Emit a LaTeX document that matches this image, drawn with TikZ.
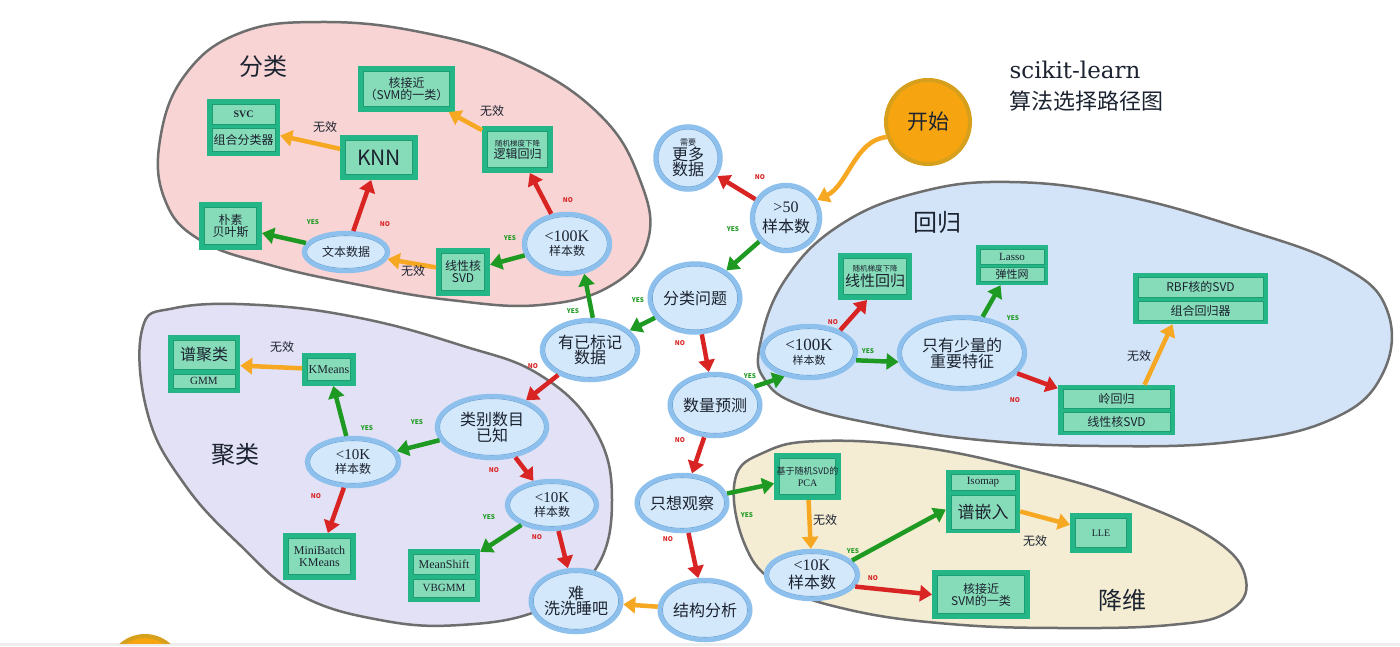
\documentclass[tikz,border=0pt]{standalone}
\usepackage{fontspec}
\setmainfont{Noto Sans CJK SC}
\newfontfamily\sr{Liberation Serif}
\newfontfamily\srd{DejaVu Serif}
\usetikzlibrary{arrows.meta,shapes.geometric,calc}
\newcommand\fsz[1]{\fontsize{#1}{#1}\selectfont\baselineskip=1.2\baselineskip}
\definecolor{pinkbg}{HTML}{F9D4D4}
\definecolor{lavbg}{HTML}{E2E1F5}
\definecolor{bluebg}{HTML}{D4E4F8}
\definecolor{beigebg}{HTML}{F4EDD3}
\definecolor{blobline}{HTML}{6E6E6E}
\definecolor{ellfill}{HTML}{D3E8FA}
\definecolor{elldraw}{HTML}{8DC0EC}
\definecolor{elldark}{HTML}{6EA6DA}
\definecolor{boxout}{HTML}{24B686}
\definecolor{boxin}{HTML}{86DBB8}
\definecolor{boxdark}{HTML}{1C9E72}
\definecolor{gr}{HTML}{1E9A22}
\definecolor{rd}{HTML}{D92424}
\definecolor{org}{HTML}{F7A823}
\definecolor{startfill}{HTML}{F6A511}
\definecolor{startdraw}{HTML}{D6A01C}
\definecolor{txt}{HTML}{1C2330}
\begin{document}
\begin{tikzpicture}[x=1pt,y=-1pt,
  blob/.style={draw=blobline, line width=2.5pt},
  ell/.style={ellipse, fill=ellfill, draw=elldraw, line width=4.5pt, inner sep=0pt, align=center, text=txt,
    path picture={\draw[elldark, line width=0.8pt] let \p1=(path picture bounding box.north east), \p2=(path picture bounding box.center) in (\p2) ellipse ({\x1-\x2-2.6pt} and {\y1-\y2-2.6pt});}},
  box/.style={rectangle, fill=boxin, draw=boxout, line width=5pt, inner sep=0pt, align=center, text=txt,
    path picture={\draw[boxdark, line width=0.7pt] ([shift={(2.8pt,-2.8pt)}]path picture bounding box.north west) rectangle ([shift={(-2.8pt,2.8pt)}]path picture bounding box.south east);}},
  stackframe/.style={rectangle, fill=boxout, inner sep=0pt},
  stackrow/.style={rectangle, fill=boxin, draw=boxdark, line width=0.6pt, inner sep=0pt, align=center, text=txt},
  arr/.style={line width=4.5pt, -{Triangle[length=12pt,width=16pt]}},
  garr/.style={arr, draw=gr},
  rarr/.style={arr, draw=rd},
  oarr/.style={arr, draw=org},
  yes/.style={text=gr, font=\fsz{6.5}\bfseries, inner sep=0pt},
  no/.style={text=rd, font=\fsz{6.5}\bfseries, inner sep=0pt},
  wx/.style={font=\fsz{12}, text=txt, inner sep=0pt},
  ttl/.style={font=\fsz{24}, text=txt, inner sep=0pt}
]
\useasboundingbox (0,0) rectangle (1400,646);
\fill[white] (0,0) rectangle (1400,646);
\fill[black!7] (0,643) rectangle (1400,646);
\begin{scope}
\clip (0,0) rectangle (1400,643);
\filldraw[fill=startfill, draw=startdraw, line width=4pt] (145,672) circle (36);
\end{scope}

% blobs
\draw[blob, fill=pinkbg] plot[smooth cycle, tension=0.7] coordinates {(160,140) (185,75) (240,33) (320,22) (420,32) (520,62) (600,115) (640,180) (648,240) (612,285) (540,305) (450,300) (360,285) (270,265) (200,240) (165,200)};
\draw[blob, fill=lavbg] plot[smooth cycle, tension=0.7] coordinates {(142,330) (175,308) (260,305) (360,318) (460,345) (540,375) (595,430) (612,500) (595,570) (540,610) (460,625) (380,620) (300,595) (240,545) (185,485) (148,415)};
\draw[blob, fill=bluebg] plot[smooth cycle, tension=0.7] coordinates {(760,345) (785,280) (840,225) (920,192) (1010,182) (1120,195) (1240,228) (1340,265) (1387,310) (1382,375) (1330,420) (1230,442) (1100,446) (980,440) (880,425) (800,405) (765,380)};
\draw[blob, fill=beigebg] plot[smooth cycle, tension=0.7] coordinates {(735,480) (765,452) (820,441) (920,447) (1030,470) (1130,500) (1215,540) (1246,580) (1228,612) (1170,625) (1060,628) (950,624) (850,610) (780,585) (745,545)};

% titles
\node[ttl] (tcls) at (263,66) {分类};
\node[ttl] (tclu) at (235,455) {聚类};
\node[ttl] (treg) at (937,222) {回归};
\node[ttl] (tdim) at (1122,600) {降维};
\node[text=txt, inner sep=0pt] (sk) at (1075,70) {\srd\fsz{23}scikit-learn};
\node[text=txt, inner sep=0pt] (sk2) at (1086,101) {\fsz{22}算法选择路径图};

% ellipses
\node[circle, fill=startfill, draw=startdraw, line width=4pt, minimum size=84, inner sep=0pt, text=txt] (start) at (928,122) {\fsz{21}开始};
\node[ell, minimum width=65, minimum height=63] (need) at (688,158) {\fsz{8}需要\\\fsz{16}更多\\\fsz{16}数据};
\node[ell, minimum width=68, minimum height=66] (g50) at (786,218) {\sr\fsz{16}>50\\[5pt]\fsz{16}样本数};
\node[ell, minimum width=76, minimum height=69] (clsq) at (695,298) {\fsz{16}分类问题};
\node[ell, minimum width=96, minimum height=60] (ylb) at (590,350) {\fsz{16}有已标记\\\fsz{16}数据};
\node[ell, minimum width=86, minimum height=62] (qty) at (715,405) {\fsz{16}数量预测};
\node[ell, minimum width=76, minimum height=56] (obs) at (682,503) {\fsz{16}只想观察};
\node[ell, minimum width=82, minimum height=60] (stru) at (705,610) {\fsz{16}结构分析};
\node[ell, minimum width=84, minimum height=62] (hard) at (576,601) {\fsz{16}难\\\fsz{16}洗洗睡吧};
\node[ell, minimum width=110, minimum height=62] (cnum) at (492,427) {\fsz{16}类别数目\\\fsz{16}已知};
\node[ell, minimum width=92, minimum height=48] (k10a) at (353,462) {\sr\fsz{15}<10K\\[2pt]\fsz{12}样本数};
\node[ell, minimum width=90, minimum height=48] (k10b) at (552,505) {\sr\fsz{15}<10K\\[2pt]\fsz{12}样本数};
\node[ell, minimum width=86, minimum height=60] (c100) at (567,244) {\sr\fsz{16}<100K\\[2pt]\fsz{12}样本数};
\node[ell, minimum width=94, minimum height=52] (r100) at (809,352) {\sr\fsz{17}<100K\\[2pt]\fsz{11}样本数};
\node[ell, minimum width=126, minimum height=72] (few) at (962,353) {\fsz{16}只有少量的\\\fsz{16}重要特征};
\node[ell, minimum width=84, minimum height=38] (txtd) at (346,252) {\fsz{12}文本数据};
\node[ell, minimum width=92, minimum height=48] (d10) at (812,575) {\sr\fsz{16}<10K\\[3pt]\fsz{16}样本数};

% single boxes
\node[box, minimum width=92, minimum height=41] (hj1) at (406.5,89) {\fsz{12}核接近\\\fsz{12}（SVM的一类）};
\node[box, minimum width=73, minimum height=40] (knn) at (379,157.5) {\fsz{21}KNN};
\node[box, minimum width=66, minimum height=42] (logr) at (517.5,149.5) {\fsz{7.5}随机梯度下降\\\fsz{12}逻辑回归};
\node[box, minimum width=58, minimum height=43] (nb) at (230.5,226) {\fsz{12}朴素\\\fsz{12}贝叶斯};
\node[box, minimum width=49, minimum height=43] (lsvd) at (463,272) {\fsz{12}线性核\\\fsz{12}SVD};
\node[box, minimum width=49, minimum height=28] (kmeans) at (329,369.5) {\sr\fsz{12}KMeans};
\node[box, minimum width=68, minimum height=42] (minib) at (319.5,556.5) {\sr\fsz{12}MiniBatch\\\sr\fsz{12}KMeans};
\node[box, minimum width=69, minimum height=42] (linr) at (875,276.5) {\fsz{7.5}随机梯度下降\\\fsz{15}线性回归};
\node[box, minimum width=54, minimum height=42] (pca) at (807.5,476.5) {\fsz{9}基于随机SVD的\\\sr\fsz{10}PCA};
\node[box, minimum width=57, minimum height=35] (lle) at (1101,533) {\sr\fsz{10}LLE};
\node[box, minimum width=93, minimum height=44] (hj2) at (981,594.5) {\fsz{12}核接近\\\fsz{12}SVM的一类};

% stacked boxes
\node[stackframe, minimum width=73, minimum height=57] (svcf) at (243.5,127.5) {};
\node[stackrow, minimum width=63, minimum height=20] (svc) at (243.5,114) {\sr\bfseries\fsz{10}SVC};
\node[stackrow, minimum width=63, minimum height=23] (ens) at (243.5,139.5) {\fsz{12}组合分类器};

\node[stackframe, minimum width=72, minimum height=58] (spf) at (204,364) {};
\node[stackrow, minimum width=62, minimum height=29] (spc) at (204,354.5) {\fsz{16}谱聚类};
\node[stackrow, minimum width=62, minimum height=14] (gmm) at (204,381) {\sr\fsz{11}GMM};

\node[stackframe, minimum width=72, minimum height=53] (msf) at (444,575.5) {};
\node[stackrow, minimum width=62, minimum height=20] (ms) at (444,564) {\sr\fsz{12}MeanShift};
\node[stackrow, minimum width=62, minimum height=18] (vb) at (444,588) {\sr\fsz{11}VBGMM};

\node[stackframe, minimum width=72, minimum height=40] (lassof) at (1012,265) {};
\node[stackrow, minimum width=64, minimum height=15] (lasso) at (1012,256.5) {\sr\fsz{11}Lasso};
\node[stackrow, minimum width=64, minimum height=14] (enet) at (1012,274) {\fsz{11}弹性网};

\node[stackframe, minimum width=135, minimum height=51] (rbff) at (1200.5,298.5) {};
\node[stackrow, minimum width=125, minimum height=20] (rbf) at (1200.5,287) {\fsz{12}RBF核的SVD};
\node[stackrow, minimum width=125, minimum height=19] (ensr) at (1200.5,310.5) {\fsz{12}组合回归器};

\node[stackframe, minimum width=117, minimum height=50] (ridgef) at (1116.5,410) {};
\node[stackrow, minimum width=107, minimum height=19] (ridge) at (1116.5,398.5) {\fsz{12}岭回归};
\node[stackrow, minimum width=107, minimum height=19] (lsvdr) at (1116.5,421.5) {\fsz{12}线性核SVD};

\node[stackframe, minimum width=74, minimum height=63] (isof) at (983,501.5) {};
\node[stackrow, minimum width=64, minimum height=16] (iso) at (983,482) {\sr\fsz{11}Isomap};
\node[stackrow, minimum width=64, minimum height=34] (spe) at (983,512) {\fsz{17}谱嵌入};

% arrows
\draw[oarr] (start.200) .. controls (855,140) and (848,185) .. (g50.30);
\draw[rarr] (g50) -- (need);
\draw[garr] (g50) -- (clsq);
\draw[garr] (clsq) -- (ylb);
\draw[rarr] (clsq) -- (qty);
\draw[garr] (ylb.85) -- (c100.-60);
\draw[rarr] (ylb) -- (cnum);
\draw[garr] (qty.25) -- (r100.225);
\draw[rarr] (qty) -- (obs);
\draw[garr] (obs) -- (pca);
\draw[rarr] (obs) -- (stru);
\draw[oarr] (stru) -- (hard);
\draw[rarr] (c100) -- (logr);
\draw[garr] (c100) -- (lsvd);
\draw[oarr] (logr) -- (hj1);
\draw[oarr] (lsvd) -- (txtd);
\draw[rarr] (txtd) -- (knn);
\draw[garr] (txtd) -- (nb);
\draw[oarr] (knn) -- (svcf);
\draw[garr] (cnum) -- (k10a);
\draw[rarr] (cnum) -- (k10b);
\draw[garr] (k10a) -- (kmeans);
\draw[rarr] (k10a) -- (minib);
\draw[oarr] (kmeans) -- (spf);
\draw[garr] (k10b) -- (msf);
\draw[rarr] (k10b) -- (hard);
\draw[rarr] (r100.35) -- ([xshift=-8pt]linr.south);
\draw[garr] (r100.-10) -- (few.188);
\draw[garr] (few) -- (lassof);
\draw[rarr] (few) -- (ridgef);
\draw[oarr] ([xshift=28pt]ridgef.north) -- ([xshift=-28pt]rbff.south);
\draw[oarr] (pca) -- (d10);
\draw[garr] (d10.20) -- ([yshift=-8pt]isof.west);
\draw[rarr] (d10.-15) -- (hj2.west);
\draw[oarr] (isof) -- (lle);

% labels
\node[no] (l1) at (760,177) {NO};
\node[yes] (l2) at (733,229) {YES};
\node[yes] (l3) at (638,300) {YES};
\node[no] (l4) at (680,343) {NO};
\node[yes] (l5) at (573,311) {YES};
\node[no] (l6) at (533,366) {NO};
\node[yes] (l7) at (750,376) {YES};
\node[no] (l8) at (680,440) {NO};
\node[yes] (l9) at (747,515) {YES};
\node[no] (l10) at (668,539) {NO};
\node[no] (l11) at (568,200) {NO};
\node[yes] (l12) at (510,238) {YES};
\node[no] (l13) at (385,224) {NO};
\node[yes] (l14) at (313,222) {YES};
\node[yes] (l15) at (417,422) {YES};
\node[no] (l16) at (494,470) {NO};
\node[yes] (l17) at (367,428) {YES};
\node[no] (l18) at (316,496) {NO};
\node[yes] (l19) at (489,517) {YES};
\node[no] (l20) at (537,537) {NO};
\node[no] (l21) at (833,322) {NO};
\node[yes] (l22) at (868,351) {YES};
\node[yes] (l23) at (1013,318) {YES};
\node[no] (l24) at (1015,400) {NO};
\node[yes] (l25) at (853,551) {YES};
\node[no] (l26) at (873,578) {NO};
\node[wx] (w1) at (325,127) {无效};
\node[wx] (w2) at (492,111) {无效};
\node[wx] (w3) at (413,271) {无效};
\node[wx] (w4) at (282,347) {无效};
\node[wx] (w5) at (1139,356) {无效};
\node[wx] (w6) at (825,520) {无效};
\node[wx] (w7) at (1035,541) {无效};
\end{tikzpicture}
\end{document}
